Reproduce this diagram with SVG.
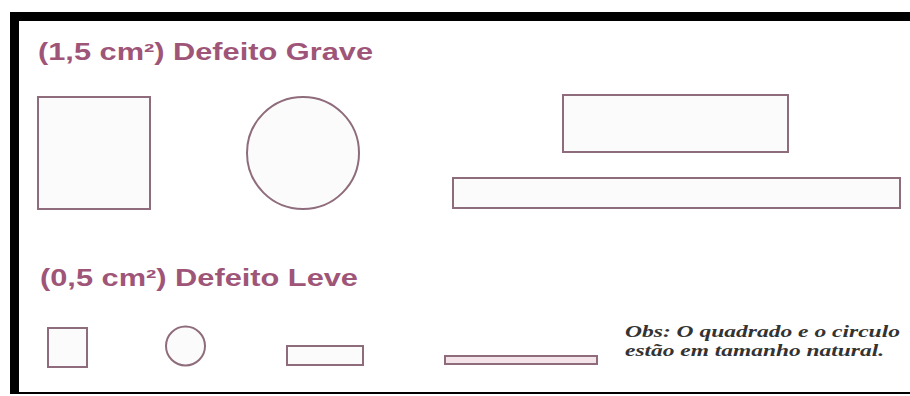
<svg xmlns="http://www.w3.org/2000/svg" width="910" height="396" viewBox="0 0 910 396">
<style>
.title{font-family:"Liberation Sans",Arial,sans-serif;font-weight:bold;font-size:23px;fill:#9e5578}
.shape{fill:#fcfbfc;stroke:#8f6c7b;stroke-width:2}
.obs{font-family:"Liberation Serif","Times New Roman",serif;font-weight:bold;font-style:italic;font-size:17px;fill:#333}
</style>
<rect x="0" y="0" width="910" height="396" fill="#ffffff"/>
<g id="frame">
<rect x="10" y="12" width="900" height="9" fill="#000"/>
<rect x="10" y="12" width="9" height="382" fill="#000"/>
<rect x="10" y="392" width="900" height="2" fill="#000"/>
</g>
<g id="title-grave"><text class="title" x="38" y="60" textLength="335" lengthAdjust="spacingAndGlyphs">(1,5 cm²) Defeito Grave</text></g>
<g id="square-large"><rect class="shape" x="38" y="97" width="112" height="112"/></g>
<g id="circle-large"><circle class="shape" cx="303" cy="153" r="56"/></g>
<g id="rect-large-1"><rect class="shape" x="563" y="95" width="225" height="57"/></g>
<g id="rect-large-2"><rect class="shape" x="453" y="178" width="447" height="30"/></g>
<g id="title-leve"><text class="title" x="40" y="286" textLength="318" lengthAdjust="spacingAndGlyphs">(0,5 cm²) Defeito Leve</text></g>
<g id="square-small"><rect class="shape" x="48" y="328" width="39" height="39"/></g>
<g id="circle-small"><circle class="shape" cx="185.5" cy="346" r="19.5"/></g>
<g id="rect-small-1"><rect class="shape" x="287" y="346" width="76" height="19"/></g>
<g id="rect-small-2"><rect class="shape" x="445" y="356" width="152" height="8" style="fill:#f3e4ea"/></g>
<g id="obs">
<text class="obs" x="625" y="337" textLength="275" lengthAdjust="spacingAndGlyphs">Obs: O quadrado e o circulo</text>
<text class="obs" x="625" y="356" textLength="259" lengthAdjust="spacingAndGlyphs">estão em tamanho natural.</text>
</g>
<g id="connectors"/>
</svg>
